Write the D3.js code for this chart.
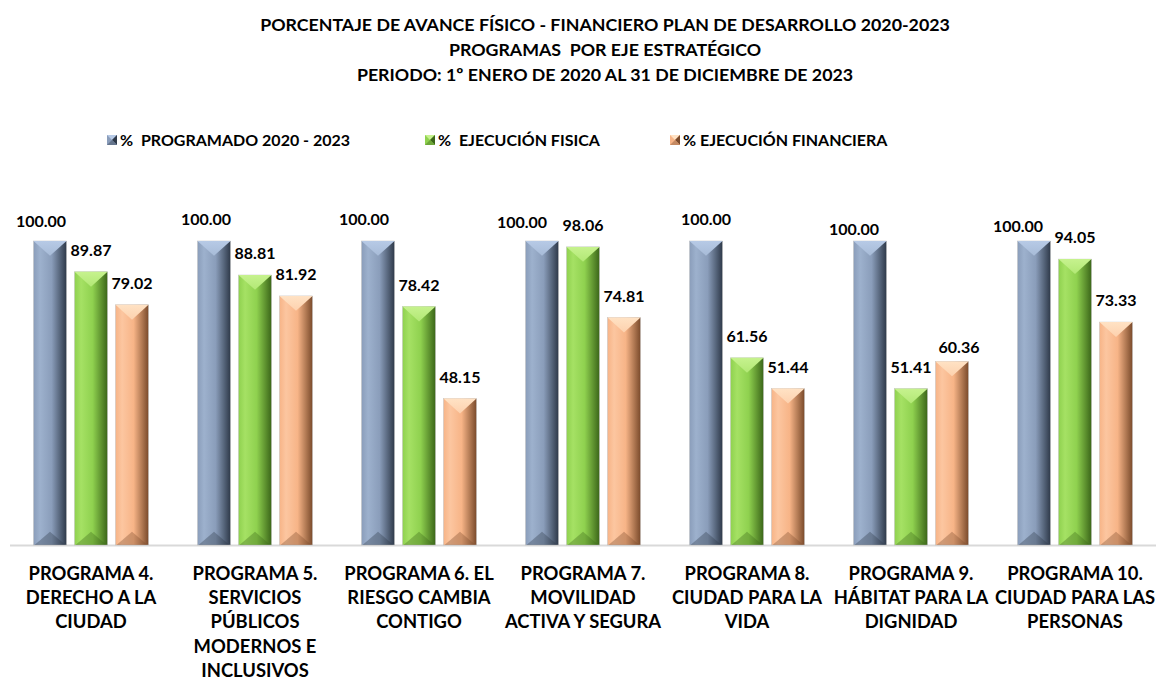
<!DOCTYPE html>
<html>
<head>
<meta charset="utf-8">
<script src="https://cdn.jsdelivr.net/npm/d3@7"></script>
<style>
  body { margin: 0; background: #fff; }
  text { font-family: Lato, "Open Sans", sans-serif; font-weight: bold; fill: #000; }
</style>
</head>
<body>
<div id="chart"></div>
<script>
// chart data
var programs = [
  ["PROGRAMA 4.", "DERECHO A LA", "CIUDAD"],
  ["PROGRAMA 5.", "SERVICIOS", "PÚBLICOS", "MODERNOS E", "INCLUSIVOS"],
  ["PROGRAMA 6. EL", "RIESGO CAMBIA", "CONTIGO"],
  ["PROGRAMA 7.", "MOVILIDAD", "ACTIVA Y SEGURA"],
  ["PROGRAMA 8.", "CIUDAD PARA LA", "VIDA"],
  ["PROGRAMA 9.", "HÁBITAT PARA LA", "DIGNIDAD"],
  ["PROGRAMA 10.", "CIUDAD PARA LAS", "PERSONAS"]
];
var seriesNames = ["%  PROGRAMADO 2020 - 2023", "%  EJECUCIÓN FISICA", "% EJECUCIÓN FINANCIERA"];
var programado = [100.00, 100.00, 100.00, 100.00, 100.00, 100.00, 100.00];
var fisica = [89.87, 88.81, 78.42, 98.06, 61.56, 51.41, 94.05];
var financiera = [79.02, 81.92, 48.15, 74.81, 51.44, 60.36, 73.33];
var titleLines = [
  "PORCENTAJE DE AVANCE FÍSICO - FINANCIERO PLAN DE DESARROLLO 2020-2023",
  "PROGRAMAS  POR EJE ESTRATÉGICO",
  "PERIODO: 1º ENERO DE 2020 AL 31 DE DICIEMBRE DE 2023"
];

// label nudges (hand-placed labels in the original), [dx, dy] by series
var labelNudge = [
  [[-9, 2], [-8, 0], [-14, 0], [-20, 3], [0, 0], [-16, 10], [-16, 7]],
  [[0, 0], [0, 0], [0, 0], [0, 0], [0, 0], [0, 0], [0, 0]],
  [[0, 0], [0, 0], [0, 0], [0, 0], [0, 0], [7, 7], [0, 0]]
];

var colors = [
  { light: "#b7cae6", main: "#8a9dba", hi: "#9db1cd", dark: "#2e3949" },
  { light: "#c6f28e", main: "#8fd14f", hi: "#a5e164", dark: "#3b6619" },
  { light: "#ffe2c4", main: "#f7b487", hi: "#fcc6a0", dark: "#7a4a2b" }
];

var svgWidth = 1156, svgHeight = 683;
var baseY = 545, topY = 241;

var svg = d3.select("#chart").append("svg")
  .attr("width", svgWidth)
  .attr("height", svgHeight);

var defs = svg.append("defs");
colors.forEach(function(c, i) {
  var g = defs.append("linearGradient").attr("id", "bar" + i)
    .attr("x1", "0").attr("x2", "1").attr("y1", "0").attr("y2", "0");
  g.append("stop").attr("offset", "0").attr("stop-color", c.main);
  g.append("stop").attr("offset", "0.2").attr("stop-color", c.hi);
  g.append("stop").attr("offset", "0.55").attr("stop-color", c.main);
  g.append("stop").attr("offset", "0.8").attr("stop-color", d3.interpolateRgb(c.main, c.dark)(0.55));
  g.append("stop").attr("offset", "1").attr("stop-color", c.dark);
  var t = defs.append("linearGradient").attr("id", "top" + i)
    .attr("x1", "0").attr("x2", "0").attr("y1", "0").attr("y2", "1");
  t.append("stop").attr("offset", "0").attr("stop-color", c.light);
  t.append("stop").attr("offset", "1").attr("stop-color", d3.interpolateRgb(c.light, c.hi)(0.6));
});

// title
svg.append("g").selectAll("text")
  .data(titleLines)
  .enter().append("text")
  .attr("x", 605)
  .attr("y", (d, i) => 31 + i * 25)
  .attr("text-anchor", "middle")
  .style("font-size", "17.8px")
  .style("white-space", "pre")
  .text(d => d);

// legend
var legendX = [107, 425, 670];
var legend = svg.append("g").selectAll("g")
  .data(seriesNames)
  .enter().append("g")
  .attr("transform", (d, i) => `translate(${legendX[i]}, 135)`);
legend.each(function(d, i) {
  var g = d3.select(this);
  g.append("rect").attr("width", 10).attr("height", 10).attr("fill", colors[i].main);
  g.append("polygon").attr("points", "0,0 10,0 5,5").attr("fill", colors[i].light);
  g.append("polygon").attr("points", "10,0 10,10 5,5").attr("fill", colors[i].dark);
  g.append("polygon").attr("points", "0,10 10,10 5,5").attr("fill", d3.interpolateRgb(colors[i].main, colors[i].dark)(0.4));
});
legend.append("text")
  .attr("x", 13)
  .attr("y", 11)
  .style("font-size", "16px")
  .style("white-space", "pre")
  .text(d => d);

// scales
var x0 = d3.scaleBand().domain(d3.range(programs.length)).range([9, 1157]);
var x1 = d3.scaleBand().domain([0, 1, 2]).range([24.5, 139.5]).paddingInner(0.195);
var y = d3.scaleLinear().domain([0, 100]).range([baseY, topY]);

var seriesValues = [programado, fisica, financiera];
var cells = [];
seriesValues.forEach(function(vals, s) {
  vals.forEach(function(v, g) { cells.push({ s: s, g: g, v: v }); });
});

// axis line
svg.append("line")
  .attr("x1", 10).attr("x2", svgWidth)
  .attr("y1", baseY + 0.5).attr("y2", baseY + 0.5)
  .attr("stroke", "#d9d9d9").attr("stroke-width", 2);

// bars
var bars = svg.append("g").selectAll("g")
  .data(cells)
  .enter().append("g")
  .attr("transform", d => `translate(${x0(d.g) + x1(d.s)}, 0)`);
var bw = x1.bandwidth();

bars.append("rect")
  .attr("y", d => y(d.v))
  .attr("width", bw)
  .attr("height", d => baseY - y(d.v))
  .attr("fill", d => `url(#bar${d.s})`)
  .attr("stroke", "#bfbfbf")
  .attr("stroke-width", 0.5);

// bevel top
bars.append("polygon")
  .attr("points", d => `0,${y(d.v)} ${bw},${y(d.v)} ${bw / 2},${y(d.v) + bw * 0.45}`)
  .attr("fill", d => `url(#top${d.s})`);
// bevel bottom
bars.append("polygon")
  .attr("points", d => `1,${baseY} ${bw - 1},${baseY} ${bw / 2},${baseY - bw * 0.4}`)
  .attr("fill", d => colors[d.s].dark)
  .attr("opacity", 0.35);

// value labels
svg.append("g").selectAll("text")
  .data(cells)
  .enter().append("text")
  .attr("x", d => x0(d.g) + x1(d.s) + bw / 2 + labelNudge[d.s][d.g][0])
  .attr("y", d => y(d.v) - 16 + labelNudge[d.s][d.g][1])
  .attr("text-anchor", "middle")
  .style("font-size", "16px")
  .text(d => d.v.toFixed(2));

// category labels
var cat = svg.append("g").selectAll("text")
  .data(programs)
  .enter().append("text")
  .attr("x", (d, i) => Math.min(x0(i) + x0.bandwidth() / 2, 1077))
  .attr("y", 580)
  .attr("text-anchor", "middle")
  .style("font-size", "18.4px");
cat.selectAll("tspan")
  .data(d => d)
  .enter().append("tspan")
  .attr("x", function() { return d3.select(this.parentNode).attr("x"); })
  .attr("dy", (d, i) => i === 0 ? 0 : 24.2)
  .text(d => d);
</script>
</body>
</html>
